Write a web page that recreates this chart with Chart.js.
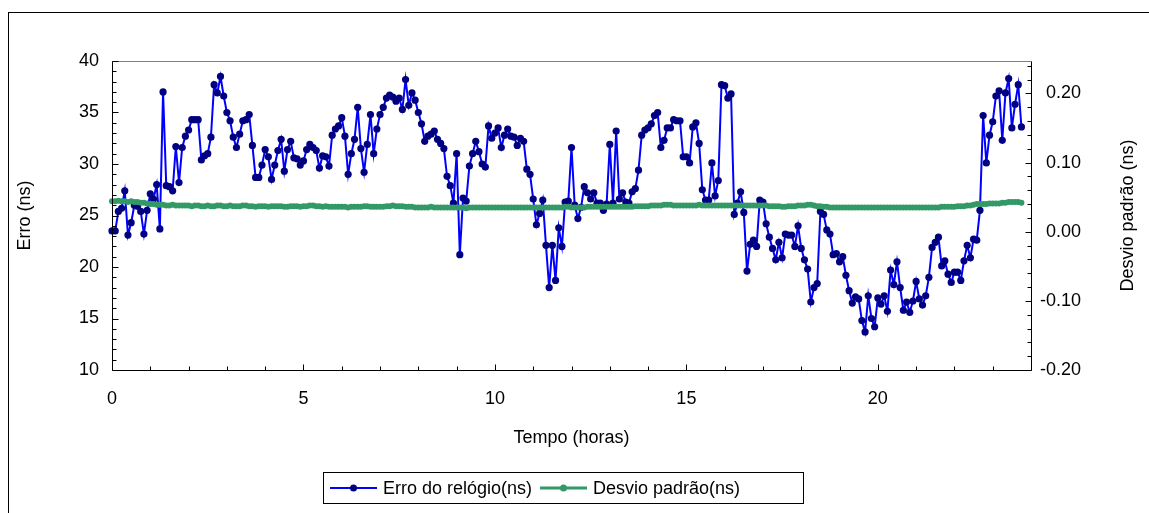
<!DOCTYPE html>
<html>
<head>
<meta charset="utf-8">
<script src="https://cdn.jsdelivr.net/npm/chart.js@4.4.1/dist/chart.umd.min.js"></script>
<style>
  html, body { margin: 0; padding: 0; background: #fff; }
  #wrap { width: 1149px; height: 513px; }
</style>
</head>
<body>
<div id="wrap"><canvas id="grafico" width="1149" height="513"></canvas></div>
<script>
// erro do relógio (ns), uma amostra a cada 5 minutos
const erro = [
  23.5, 23.5, 25.4, 25.7, 27.4, 23.1, 24.3, 26.0, 25.9, 25.4, 23.2, 25.5,
  27.1, 26.6, 28.0, 23.7, 37.0, 27.9, 27.8, 27.4, 31.7, 28.2, 31.6, 32.7,
  33.3, 34.3, 34.3, 34.3, 30.4, 30.8, 31.0, 32.6, 37.7, 36.9, 38.5, 36.6,
  35.0, 34.2, 32.6, 31.6, 32.9, 34.2, 34.3, 34.8, 31.8, 28.7, 28.7, 29.9,
  31.4, 30.7, 28.5, 29.9, 31.3, 32.4, 29.3, 31.4, 32.2, 30.6, 30.5, 29.9,
  30.3, 31.4, 31.9, 31.6, 31.3, 29.6, 30.8, 30.7, 29.8, 32.8, 33.4, 33.7,
  34.5, 32.7, 29.0, 31.0, 32.4, 35.5, 31.5, 29.2, 31.9, 34.8, 31.0, 33.4,
  34.8, 35.5, 36.4, 36.7, 36.5, 36.1, 36.4, 35.3, 38.2, 35.7, 36.9, 36.2,
  35.0, 33.9, 32.2, 32.7, 32.9, 33.2, 32.4, 32.0, 31.5, 28.8, 27.9, 26.2,
  31.0, 21.2, 26.7, 26.4, 29.8, 31.0, 32.2, 31.2, 30.0, 29.7, 33.7, 32.5,
  33.0, 33.5, 31.6, 32.8, 33.4, 32.7, 32.6, 31.8, 32.5, 32.2, 29.5, 29.0,
  26.6, 24.1, 25.2, 26.5, 22.1, 18.0, 22.1, 18.7, 23.8, 22.0, 26.3, 26.4,
  31.6, 26.0, 24.7, 25.8, 27.8, 27.2, 26.6, 27.2, 26.2, 26.2, 25.5, 26.1,
  31.9, 26.2, 33.2, 26.6, 27.2, 26.3, 26.2, 27.3, 27.6, 29.4, 32.8, 33.3,
  33.5, 33.9, 34.7, 35.0, 31.6, 32.3, 33.5, 33.5, 34.3, 34.2, 34.2, 30.7,
  30.7, 30.1, 33.6, 34.0, 32.0, 27.5, 26.5, 26.5, 30.1, 26.9, 28.4, 37.7,
  37.6, 36.4, 36.8, 25.1, 26.2, 27.3, 25.3, 19.6, 22.2, 22.6, 22.0, 26.5,
  26.3, 24.2, 22.9, 21.8, 20.7, 22.4, 20.9, 23.2, 23.1, 23.1, 22.0, 24.0,
  21.8, 20.7, 19.8, 16.6, 18.0, 18.4, 25.4, 25.1, 23.6, 23.2, 21.2, 21.3,
  20.5, 21.0, 19.2, 17.7, 16.5, 17.1, 16.9, 14.8, 13.7, 17.2, 15.0, 14.2,
  17.0, 16.4, 17.2, 15.7, 19.7, 18.3, 20.5, 18.0, 15.8, 16.6, 15.6, 16.7,
  18.6, 16.9, 16.3, 17.2, 19.0, 21.9, 22.4, 22.9, 20.1, 20.6, 19.3, 18.5,
  19.5, 19.5, 18.7, 20.6, 22.1, 20.9, 22.7, 22.6, 25.5, 34.7, 30.1, 32.8,
  34.1, 36.6, 37.1, 32.3, 36.9, 38.3, 33.5, 35.8, 37.7, 33.6
];

// desvio padrão (ns), mesmas amostras
const desvio = [
  0.044, 0.044, 0.045, 0.044, 0.044, 0.043, 0.044, 0.043, 0.043, 0.042, 0.042, 0.041,
  0.040, 0.040, 0.039, 0.039, 0.039, 0.038, 0.038, 0.039, 0.038, 0.038, 0.038, 0.038,
  0.038, 0.037, 0.038, 0.038, 0.037, 0.037, 0.038, 0.037, 0.037, 0.038, 0.038, 0.037,
  0.037, 0.038, 0.037, 0.037, 0.037, 0.038, 0.038, 0.037, 0.037, 0.036, 0.037, 0.037,
  0.037, 0.036, 0.037, 0.037, 0.037, 0.037, 0.036, 0.036, 0.037, 0.037, 0.037, 0.036,
  0.037, 0.037, 0.038, 0.038, 0.037, 0.037, 0.036, 0.037, 0.036, 0.036, 0.036, 0.036,
  0.036, 0.036, 0.035, 0.036, 0.036, 0.036, 0.036, 0.037, 0.037, 0.036, 0.036, 0.036,
  0.036, 0.036, 0.037, 0.037, 0.038, 0.037, 0.037, 0.037, 0.036, 0.036, 0.036, 0.035,
  0.035, 0.035, 0.035, 0.035, 0.036, 0.035, 0.035, 0.035, 0.035, 0.035, 0.035, 0.035,
  0.035, 0.035, 0.035, 0.034, 0.035, 0.035, 0.035, 0.035, 0.035, 0.035, 0.035, 0.035,
  0.035, 0.035, 0.035, 0.035, 0.035, 0.035, 0.035, 0.035, 0.035, 0.035, 0.035, 0.035,
  0.035, 0.035, 0.035, 0.035, 0.035, 0.035, 0.035, 0.035, 0.035, 0.035, 0.036, 0.036,
  0.035, 0.035, 0.035, 0.035, 0.035, 0.036, 0.036, 0.036, 0.036, 0.036, 0.036, 0.036,
  0.036, 0.036, 0.036, 0.036, 0.036, 0.036, 0.036, 0.036, 0.037, 0.037, 0.037, 0.037,
  0.037, 0.038, 0.038, 0.038, 0.038, 0.039, 0.039, 0.039, 0.038, 0.038, 0.038, 0.038,
  0.038, 0.038, 0.038, 0.038, 0.039, 0.038, 0.038, 0.038, 0.038, 0.038, 0.038, 0.038,
  0.038, 0.038, 0.038, 0.038, 0.038, 0.038, 0.038, 0.038, 0.038, 0.038, 0.038, 0.038,
  0.038, 0.038, 0.037, 0.037, 0.037, 0.037, 0.036, 0.036, 0.037, 0.037, 0.037, 0.038,
  0.038, 0.038, 0.039, 0.039, 0.038, 0.037, 0.037, 0.036, 0.036, 0.035, 0.035, 0.035,
  0.035, 0.035, 0.035, 0.035, 0.035, 0.035, 0.035, 0.035, 0.035, 0.035, 0.035, 0.035,
  0.035, 0.035, 0.035, 0.035, 0.035, 0.035, 0.035, 0.035, 0.035, 0.035, 0.035, 0.035,
  0.035, 0.035, 0.035, 0.035, 0.035, 0.035, 0.035, 0.035, 0.036, 0.036, 0.036, 0.036,
  0.036, 0.037, 0.037, 0.037, 0.038, 0.038, 0.039, 0.040, 0.040, 0.040, 0.040, 0.041,
  0.041, 0.041, 0.041, 0.042, 0.042, 0.043, 0.043, 0.043, 0.043, 0.042
];

// tempo em horas (intervalo de 5 min)
const tempo = erro.map((_, i) => i / 12);

const xTicks = [0, 5, 10, 15, 20];
const yTicks = [10, 15, 20, 25, 30, 35, 40];
const y1Ticks = [-0.2, -0.1, 0, 0.1, 0.2];

const fonte = { family: '"Liberation Sans", Arial, sans-serif', size: 18 };
const FONT = '18px "Liberation Sans", Arial, sans-serif';
const AZUL = '#0000FF';
const MARINHO = '#000080';
const VERDE = '#339966';

// marcas internas, eixos, títulos e legenda
const molduraPlugin = {
  id: 'moldura',
  beforeDraw(chart) {
    const ctx = chart.ctx;
    ctx.save();
    ctx.fillStyle = '#fff';
    ctx.fillRect(0, 0, chart.width, chart.height);
    ctx.strokeStyle = '#000';
    ctx.lineWidth = 1;
    ctx.strokeRect(8.5, 12.5, 1300, 700);
    ctx.restore();
  },
  afterDatasetsDraw(chart) {
    const { ctx, chartArea: a } = chart;
    const { x, y, y1 } = chart.scales;
    const L = a.left + 0.5, R = a.right + 0.5, T = a.top + 0.5, B = a.bottom + 0.5;
    ctx.save();
    ctx.lineWidth = 1;
    ctx.strokeStyle = '#808080';
    ctx.beginPath();
    ctx.moveTo(L, T); ctx.lineTo(R, T);
    ctx.stroke();

    ctx.strokeStyle = '#000';
    ctx.beginPath();
    ctx.moveTo(L, T); ctx.lineTo(L, B); ctx.lineTo(R, B); ctx.lineTo(R, T);
    for (let h = 0; h <= 24; h++) {
      const px = Math.round(x.getPixelForValue(h)) + 0.5;
      const len = h % 5 === 0 ? 6 : 4;
      ctx.moveTo(px, B); ctx.lineTo(px, B - len);
    }
    for (let v = 10; v <= 40; v++) {
      const py = Math.round(y.getPixelForValue(v)) + 0.5;
      const len = v % 5 === 0 ? 6 : 4;
      ctx.moveTo(L, py); ctx.lineTo(L + len, py);
    }
    for (let k = -10; k <= 12; k++) {
      const py = Math.round(y1.getPixelForValue(k * 0.02)) + 0.5;
      const len = k % 5 === 0 ? 6 : 4;
      ctx.moveTo(R, py); ctx.lineTo(R - len, py);
    }
    ctx.stroke();
    ctx.restore();
  },
  afterDraw(chart) {
    const { ctx, chartArea: a } = chart;
    const midY = (a.top + a.bottom) / 2;
    ctx.save();
    ctx.fillStyle = '#000';
    ctx.font = FONT;
    ctx.textAlign = 'center';
    ctx.textBaseline = 'middle';
    ctx.fillText('Tempo (horas)', (a.left + a.right) / 2, 438);

    ctx.save();
    ctx.translate(25, midY);
    ctx.rotate(-Math.PI / 2);
    ctx.fillText('Erro (ns)', 0, 0);
    ctx.restore();

    ctx.save();
    ctx.translate(1128, midY);
    ctx.rotate(-Math.PI / 2);
    ctx.fillText('Desvio padrão (ns)', 0, 0);
    ctx.restore();

    // legenda
    const lx = 323.5, ly = 472.5, lw = 480, lh = 31, cy = ly + lh / 2;
    ctx.strokeStyle = '#000';
    ctx.lineWidth = 1;
    ctx.strokeRect(lx, ly, lw, lh);
    const itens = chart.data.datasets.map((ds, i) => ({
      texto: ds.label, cor: ds.borderColor, ponto: ds.pointBackgroundColor,
      lw: ds.borderWidth, x0: i === 0 ? 330 : 540
    }));
    ctx.textAlign = 'left';
    itens.forEach(it => {
      ctx.strokeStyle = it.cor;
      ctx.lineWidth = it.lw;
      ctx.beginPath();
      ctx.moveTo(it.x0, cy); ctx.lineTo(it.x0 + 47, cy);
      ctx.stroke();
      ctx.fillStyle = it.ponto;
      ctx.beginPath();
      ctx.arc(it.x0 + 23.5, cy, 3.5, 0, Math.PI * 2);
      ctx.fill();
      ctx.fillStyle = '#000';
      ctx.fillText(it.texto, it.x0 + 53, cy + 1);
    });
    ctx.restore();
  }
};

new Chart(document.getElementById('grafico'), {
  type: 'line',
  data: {
    datasets: [
      {
        label: 'Erro do relógio(ns)',
        data: tempo.map((t, i) => ({ x: t, y: erro[i] })),
        yAxisID: 'y',
        borderColor: AZUL,
        borderWidth: 2,
        pointRadius: 3.6,
        pointBackgroundColor: MARINHO,
        pointBorderColor: MARINHO,
        pointBorderWidth: 0,
        tension: 0,
        clip: false,
        order: 2
      },
      {
        label: 'Desvio padrão(ns)',
        data: tempo.map((t, i) => ({ x: t, y: desvio[i] })),
        yAxisID: 'y1',
        borderColor: VERDE,
        borderWidth: 3,
        pointRadius: 3,
        pointBackgroundColor: VERDE,
        pointBorderColor: VERDE,
        pointBorderWidth: 0,
        tension: 0,
        clip: false,
        order: 1
      }
    ]
  },
  options: {
    responsive: false,
    animation: false,
    devicePixelRatio: 1,
    layout: { padding: { top: 61, left: 0, right: 68, bottom: 0 } },
    plugins: { legend: { display: false }, tooltip: { enabled: false } },
    scales: {
      x: {
        type: 'linear', min: 0, max: 24,
        grid: { display: false, drawTicks: false },
        border: { display: false },
        afterBuildTicks: s => { s.ticks = xTicks.map(v => ({ value: v })); },
        afterFit: s => { s.height = 143; },
        ticks: { color: '#000', font: fonte, padding: 18, maxRotation: 0, autoSkip: false }
      },
      y: {
        position: 'left', min: 10, max: 40,
        grid: { display: false, drawTicks: false },
        border: { display: false },
        afterBuildTicks: s => { s.ticks = yTicks.map(v => ({ value: v })); },
        afterFit: s => { s.width = 112; },
        ticks: { color: '#000', font: fonte, padding: 13 }
      },
      y1: {
        position: 'right', min: -0.2, max: 0.247,
        grid: { display: false, drawTicks: false },
        border: { display: false },
        afterBuildTicks: s => { s.ticks = y1Ticks.map(v => ({ value: v })); },
        afterFit: s => { s.width = 50; },
        ticks: {
          color: '#000', font: fonte, padding: 9, crossAlign: 'far',
          callback: v => v.toFixed(2)
        }
      }
    }
  },
  plugins: [molduraPlugin]
});
</script>
</body>
</html>
